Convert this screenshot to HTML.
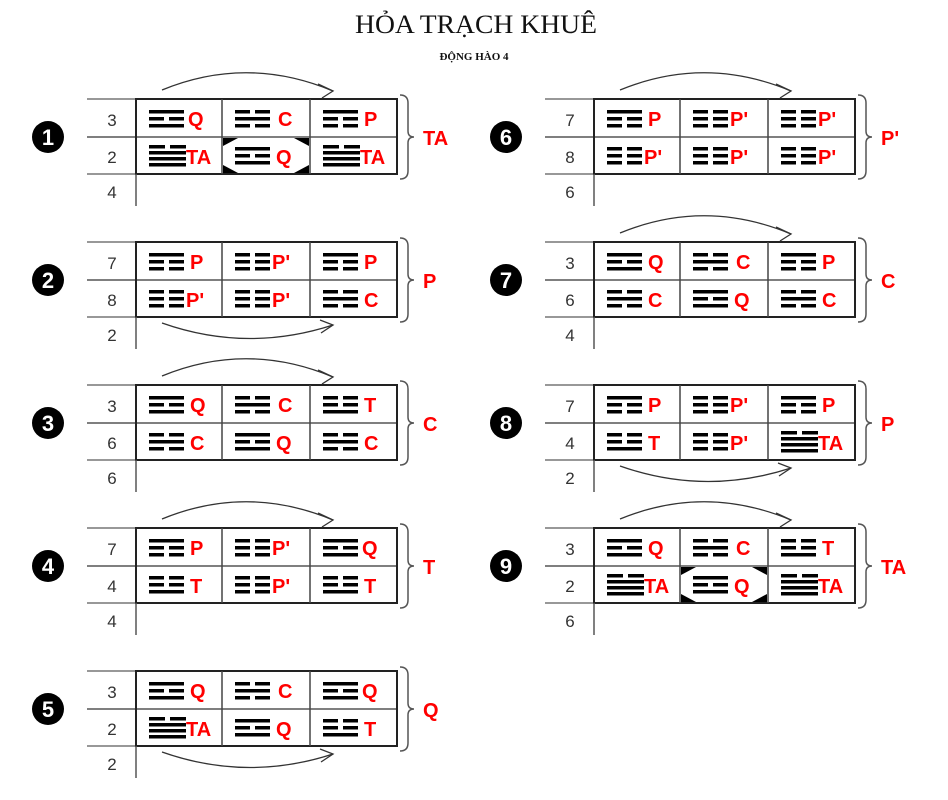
<!DOCTYPE html>
<html><head><meta charset="utf-8"><style>html,body{margin:0;padding:0;background:#fff}svg{display:block}</style></head>
<body>
<svg width="948" height="800" viewBox="0 0 948 800" xmlns="http://www.w3.org/2000/svg">
<defs>
<g id="S"><rect width="35" height="3.5"/></g>
<g id="B"><rect width="15" height="3.5"/><rect x="20" width="15" height="3.5"/></g>
<g id="Q"><use href="#S"/><use href="#B" y="7"/><use href="#S" y="14"/></g>
<g id="C"><use href="#B"/><use href="#S" y="7"/><use href="#B" y="14"/></g>
<g id="P"><use href="#S"/><use href="#B" y="7"/><use href="#B" y="14"/></g>
<g id="Pp"><use href="#B"/><use href="#B" y="7"/><use href="#B" y="14"/></g>
<g id="T"><use href="#B"/><use href="#B" y="7"/><use href="#S" y="14"/></g>
<g id="TA"><rect width="16" height="3.5"/><rect x="21" width="16" height="3.5"/><rect y="6" width="37" height="3.5"/><rect y="12" width="37" height="3.5"/><rect y="18" width="37" height="3.5"/></g>
<g id="frame">
 <line x1="87" y1="99" x2="136" y2="99" stroke="#777" stroke-width="1.5"/>
 <line x1="87" y1="137" x2="397" y2="137" stroke="#555" stroke-width="1.5"/>
 <line x1="87" y1="174" x2="136" y2="174" stroke="#777" stroke-width="1.5"/>
 <rect x="136" y="99" width="261" height="75" fill="none" stroke="#222" stroke-width="2"/>
 <line x1="222" y1="99" x2="222" y2="174" stroke="#444" stroke-width="1.5"/>
 <line x1="310" y1="99" x2="310" y2="174" stroke="#444" stroke-width="1.5"/>
 <line x1="136" y1="174" x2="136" y2="206" stroke="#555" stroke-width="1.5"/>
 <path d="M400,95 q8,0 8,8 v28 q0,6 6,6 q-6,0 -6,6 v28 q0,8 -8,8" fill="none" stroke="#555" stroke-width="1.5"/>
 <circle cx="48" cy="137" r="16" fill="#000"/>
</g>
<g id="atop"><path d="M162,90 Q247,55 333,91" fill="none" stroke="#333" stroke-width="1.3"/><path d="M318,84 L333,91 L322,98" fill="none" stroke="#333" stroke-width="1.3"/></g>
<g id="abot"><path d="M162,180 Q247,210 333,182" fill="none" stroke="#333" stroke-width="1.3"/><path d="M320,177 L333,182 L321,190" fill="none" stroke="#333" stroke-width="1.3"/></g>
<g id="oct" fill="#000"><path d="M223,138 L238,138 L223,146Z"/><path d="M309,138 L294,138 L309,146Z"/><path d="M223,173 L238,173 L223,165Z"/><path d="M309,173 L294,173 L309,165Z"/></g>
</defs>
<style>
.n{font-family:"Liberation Sans",sans-serif;font-size:17px;fill:#333;text-anchor:middle}
.r{font-family:"Liberation Sans",sans-serif;font-size:20px;font-weight:bold;fill:#f00}
.c{font-family:"Liberation Sans",sans-serif;font-size:22px;font-weight:bold;fill:#fff;text-anchor:middle}
</style>
<text x="476" y="33" text-anchor="middle" font-family="Liberation Serif, serif" font-size="26" fill="#111" textLength="242" lengthAdjust="spacingAndGlyphs">HỎA TRẠCH KHUÊ</text>
<text x="474" y="60" text-anchor="middle" font-family="Liberation Serif, serif" font-size="11" font-weight="bold" fill="#111">ĐỘNG HÀO 4</text>

<g>
<use href="#frame"/><use href="#atop"/><use href="#oct"/>
<text class="c" x="48" y="145">1</text>
<text class="n" x="112" y="126">3</text><text class="n" x="112" y="163">2</text><text class="n" x="112" y="198">4</text>
<use href="#Q" x="149" y="110"/><text class="r" x="188" y="126">Q</text>
<use href="#C" x="235" y="110"/><text class="r" x="278" y="126">C</text>
<use href="#P" x="323" y="110"/><text class="r" x="364" y="126">P</text>
<use href="#TA" x="149" y="145"/><text class="r" x="186" y="164">TA</text>
<use href="#Q" x="235" y="147"/><text class="r" x="276" y="164">Q</text>
<use href="#TA" x="323" y="145"/><text class="r" x="360" y="164">TA</text>
<text class="r" x="423" y="145">TA</text>
</g>
<g transform="translate(0,143)">
<use href="#frame"/><use href="#abot"/>
<text class="c" x="48" y="145">2</text>
<text class="n" x="112" y="126">7</text><text class="n" x="112" y="163">8</text><text class="n" x="112" y="198">2</text>
<use href="#P" x="149" y="110"/><text class="r" x="190" y="126">P</text>
<use href="#Pp" x="235" y="110"/><text class="r" x="272" y="126">P'</text>
<use href="#P" x="323" y="110"/><text class="r" x="364" y="126">P</text>
<use href="#Pp" x="149" y="147"/><text class="r" x="186" y="164">P'</text>
<use href="#Pp" x="235" y="147"/><text class="r" x="272" y="164">P'</text>
<use href="#C" x="323" y="147"/><text class="r" x="364" y="164">C</text>
<text class="r" x="423" y="145">P</text>
</g>
<g transform="translate(0,286)">
<use href="#frame"/><use href="#atop"/>
<text class="c" x="48" y="145">3</text>
<text class="n" x="112" y="126">3</text><text class="n" x="112" y="163">6</text><text class="n" x="112" y="198">6</text>
<use href="#Q" x="149" y="110"/><text class="r" x="190" y="126">Q</text>
<use href="#C" x="235" y="110"/><text class="r" x="278" y="126">C</text>
<use href="#T" x="323" y="110"/><text class="r" x="364" y="126">T</text>
<use href="#C" x="149" y="147"/><text class="r" x="190" y="164">C</text>
<use href="#Q" x="235" y="147"/><text class="r" x="276" y="164">Q</text>
<use href="#C" x="323" y="147"/><text class="r" x="364" y="164">C</text>
<text class="r" x="423" y="145">C</text>
</g>
<g transform="translate(0,429)">
<use href="#frame"/><use href="#atop"/>
<text class="c" x="48" y="145">4</text>
<text class="n" x="112" y="126">7</text><text class="n" x="112" y="163">4</text><text class="n" x="112" y="198">4</text>
<use href="#P" x="149" y="110"/><text class="r" x="190" y="126">P</text>
<use href="#Pp" x="235" y="110"/><text class="r" x="272" y="126">P'</text>
<use href="#Q" x="323" y="110"/><text class="r" x="362" y="126">Q</text>
<use href="#T" x="149" y="147"/><text class="r" x="190" y="164">T</text>
<use href="#Pp" x="235" y="147"/><text class="r" x="272" y="164">P'</text>
<use href="#T" x="323" y="147"/><text class="r" x="364" y="164">T</text>
<text class="r" x="423" y="145">T</text>
</g>
<g transform="translate(0,572)">
<use href="#frame"/><use href="#abot"/>
<text class="c" x="48" y="145">5</text>
<text class="n" x="112" y="126">3</text><text class="n" x="112" y="163">2</text><text class="n" x="112" y="198">2</text>
<use href="#Q" x="149" y="110"/><text class="r" x="190" y="126">Q</text>
<use href="#C" x="235" y="110"/><text class="r" x="278" y="126">C</text>
<use href="#Q" x="323" y="110"/><text class="r" x="362" y="126">Q</text>
<use href="#TA" x="149" y="145"/><text class="r" x="186" y="164">TA</text>
<use href="#Q" x="235" y="147"/><text class="r" x="276" y="164">Q</text>
<use href="#T" x="323" y="147"/><text class="r" x="364" y="164">T</text>
<text class="r" x="423" y="145">Q</text>
</g>
<g transform="translate(458,0)">
<use href="#frame"/><use href="#atop"/>
<text class="c" x="48" y="145">6</text>
<text class="n" x="112" y="126">7</text><text class="n" x="112" y="163">8</text><text class="n" x="112" y="198">6</text>
<use href="#P" x="149" y="110"/><text class="r" x="190" y="126">P</text>
<use href="#Pp" x="235" y="110"/><text class="r" x="272" y="126">P'</text>
<use href="#Pp" x="323" y="110"/><text class="r" x="360" y="126">P'</text>
<use href="#Pp" x="149" y="147"/><text class="r" x="186" y="164">P'</text>
<use href="#Pp" x="235" y="147"/><text class="r" x="272" y="164">P'</text>
<use href="#Pp" x="323" y="147"/><text class="r" x="360" y="164">P'</text>
<text class="r" x="423" y="145">P'</text>
</g>
<g transform="translate(458,143)">
<use href="#frame"/><use href="#atop"/>
<text class="c" x="48" y="145">7</text>
<text class="n" x="112" y="126">3</text><text class="n" x="112" y="163">6</text><text class="n" x="112" y="198">4</text>
<use href="#Q" x="149" y="110"/><text class="r" x="190" y="126">Q</text>
<use href="#C" x="235" y="110"/><text class="r" x="278" y="126">C</text>
<use href="#P" x="323" y="110"/><text class="r" x="364" y="126">P</text>
<use href="#C" x="149" y="147"/><text class="r" x="190" y="164">C</text>
<use href="#Q" x="235" y="147"/><text class="r" x="276" y="164">Q</text>
<use href="#C" x="323" y="147"/><text class="r" x="364" y="164">C</text>
<text class="r" x="423" y="145">C</text>
</g>
<g transform="translate(458,286)">
<use href="#frame"/><use href="#abot"/>
<text class="c" x="48" y="145">8</text>
<text class="n" x="112" y="126">7</text><text class="n" x="112" y="163">4</text><text class="n" x="112" y="198">2</text>
<use href="#P" x="149" y="110"/><text class="r" x="190" y="126">P</text>
<use href="#Pp" x="235" y="110"/><text class="r" x="272" y="126">P'</text>
<use href="#P" x="323" y="110"/><text class="r" x="364" y="126">P</text>
<use href="#T" x="149" y="147"/><text class="r" x="190" y="164">T</text>
<use href="#Pp" x="235" y="147"/><text class="r" x="272" y="164">P'</text>
<use href="#TA" x="323" y="145"/><text class="r" x="360" y="164">TA</text>
<text class="r" x="423" y="145">P</text>
</g>
<g transform="translate(458,429)">
<use href="#frame"/><use href="#atop"/><use href="#oct"/>
<text class="c" x="48" y="145">9</text>
<text class="n" x="112" y="126">3</text><text class="n" x="112" y="163">2</text><text class="n" x="112" y="198">6</text>
<use href="#Q" x="149" y="110"/><text class="r" x="190" y="126">Q</text>
<use href="#C" x="235" y="110"/><text class="r" x="278" y="126">C</text>
<use href="#T" x="323" y="110"/><text class="r" x="364" y="126">T</text>
<use href="#TA" x="149" y="145"/><text class="r" x="186" y="164">TA</text>
<use href="#Q" x="235" y="147"/><text class="r" x="276" y="164">Q</text>
<use href="#TA" x="323" y="145"/><text class="r" x="360" y="164">TA</text>
<text class="r" x="423" y="145">TA</text>
</g>
</svg>
</body></html>
